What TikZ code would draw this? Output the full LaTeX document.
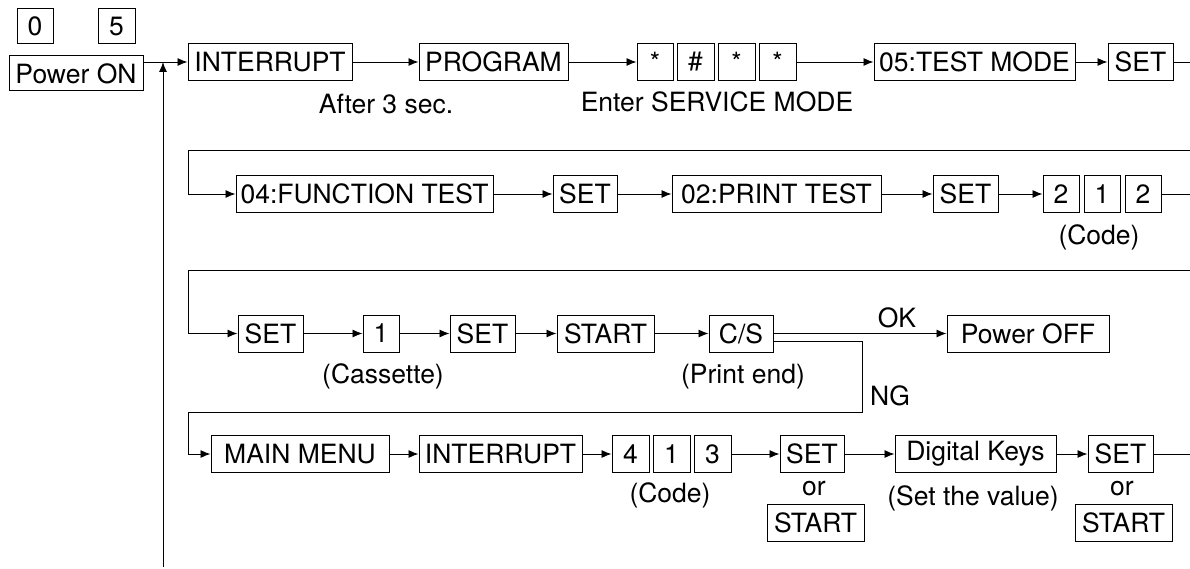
\documentclass[tikz,border=0pt]{standalone}
\usepackage{fontspec}
\setmainfont{TeX Gyre Heros}
\usetikzlibrary{arrows.meta}

\begin{document}
\begin{tikzpicture}[x=1pt,y=-1pt]
\tikzstyle{every node}=[font=\fontsize{26.5}{31}\selectfont];
\tikzstyle{every path}=[line width=0.9pt];
\tikzstyle{key}=[draw,line width=1pt,inner sep=0pt,minimum height=37pt];
\tikzstyle{go}=[-{Latex[length=10pt,width=8pt]}];
\useasboundingbox (0,0) rectangle (1190,569);
% row 1
\node (K0) [key,minimum width=36pt,minimum height=35pt] at (35,26.5) {0};
\node (K5) [key,minimum width=37pt,minimum height=35pt] at (116.5,26.5) {5};
\node (PON) [key,minimum width=134pt,minimum height=35pt] at (76,73.5) {Power ON};
\node (INT1) [key,minimum width=164pt] at (270,62) {INTERRUPT};
\node (PRG) [key,minimum width=149pt] at (493.5,62) {PROGRAM};
\node (S1) [key,minimum width=36pt] at (655,62) {*};
\node (S2) [key,minimum width=37pt] at (695.5,62) {\#};
\node (S3) [key,minimum width=37pt] at (736.5,62) {*};
\node (S4) [key,minimum width=37pt] at (777.5,62) {*};
\node (TM) [key,minimum width=201pt] at (974.5,62) {05:TEST MODE};
\node (SET1) [key,minimum width=65pt] at (1140.5,62) {SET};
\node (AFT) at (386,104) {After 3 sec.};
\node (ENT) at (717,102) {Enter SERVICE MODE};
% row 2
\node (FT) [key,minimum width=257pt] at (364.5,194) {04:FUNCTION TEST};
\node (SET2) [key,minimum width=64pt] at (585,194) {SET};
\node (PT) [key,minimum width=209pt] at (776.5,194) {02:PRINT TEST};
\node (SET3) [key,minimum width=65pt] at (965.5,194) {SET};
\node (C1) [key,minimum width=36pt] at (1061,194) {2};
\node (C2) [key,minimum width=36pt] at (1102,194) {1};
\node (C3) [key,minimum width=36pt] at (1143,194) {2};
\node (CODE1) at (1099,237) {(Code)};
% row 3
\node (SET4) [key,minimum width=65pt] at (270.5,333.5) {SET};
\node (ONE) [key,minimum width=36pt] at (381,333.5) {1};
\node (SET5) [key,minimum width=65pt] at (482.5,333.5) {SET};
\node (ST1) [key,minimum width=97pt] at (605.5,333.5) {START};
\node (CS) [key,minimum width=64pt] at (741,333.5) {C/S};
\node (POFF) [key,minimum width=162pt] at (1028,333.5) {Power OFF};
\node (CAS) at (383,376) {(Cassette)};
\node (PEND) at (743,377) {(Print end)};
\node (OK) at (897,318) {OK};
\node (NG) at (890,396) {NG};
% row 4
\node (MM) [key,minimum width=178pt] at (300,454) {MAIN MENU};
\node (INT2) [key,minimum width=163pt] at (500.5,454) {INTERRUPT};
\node (D4) [key,minimum width=37pt] at (630.5,454) {4};
\node (D1) [key,minimum width=37pt] at (671.5,454) {1};
\node (D3) [key,minimum width=37pt] at (712.5,454) {3};
\node (CODE2) at (670,495) {(Code)};
\node (SET6) [key,minimum width=64pt] at (812,454) {SET};
\node (OR1) at (814,489) {or};
\node (ST2) [key,minimum width=97pt] at (815.5,523) {START};
\node (DK) [key,minimum width=161pt] at (975.5,454) {Digital Keys};
\node (VAL) at (973,498) {(Set the value)};
\node (SET7) [key,minimum width=65pt] at (1120.5,454) {SET};
\node (OR2) at (1122,489) {or};
\node (ST3) [key,minimum width=97pt] at (1123.5,523) {START};
% links
\coordinate (BOT) at (163,567);
\coordinate (E1) at (1190,62);
\coordinate (W1) at (1190,150);
\coordinate (L1) at (188,150);
\coordinate (E2) at (1190,194);
\coordinate (W2) at (1190,270);
\coordinate (L2) at (188,270);
\coordinate (NGR) at (862,412);
\coordinate (L3) at (188,412);
\coordinate (E4) at (1190,454);
\draw[go] (BOT) -- (BOT |- INT1.west);
\draw[go] (PON.east |- INT1.west) -- (INT1.west);
\draw[go] (INT1) -- (PRG);
\draw[go] (PRG) -- (S1);
\draw[go] (S4) -- (TM);
\draw[go] (TM) -- (SET1);
\draw (SET1) -- (E1);
\draw[go] (W1) -- (L1) |- (FT.west);
\draw[go] (FT) -- (SET2);
\draw[go] (SET2) -- (PT);
\draw[go] (PT) -- (SET3);
\draw[go] (SET3) -- (C1);
\draw (C3) -- (E2);
\draw[go] (W2) -- (L2) |- (SET4.west);
\draw[go] (SET4) -- (ONE);
\draw[go] (ONE) -- (SET5);
\draw[go] (SET5) -- (ST1);
\draw[go] (ST1) -- (CS);
\draw[go] (CS) -- (POFF);
\draw[go] ([yshift=-8pt]CS.east) -| (NGR) -- (L3) |- (MM.west);
\draw[go] (MM) -- (INT2);
\draw[go] (INT2) -- (D4);
\draw[go] (D3) -- (SET6);
\draw[go] (SET6) -- (DK);
\draw[go] (DK) -- (SET7);
\draw (SET7) -- (E4);
\end{tikzpicture}
\end{document}
